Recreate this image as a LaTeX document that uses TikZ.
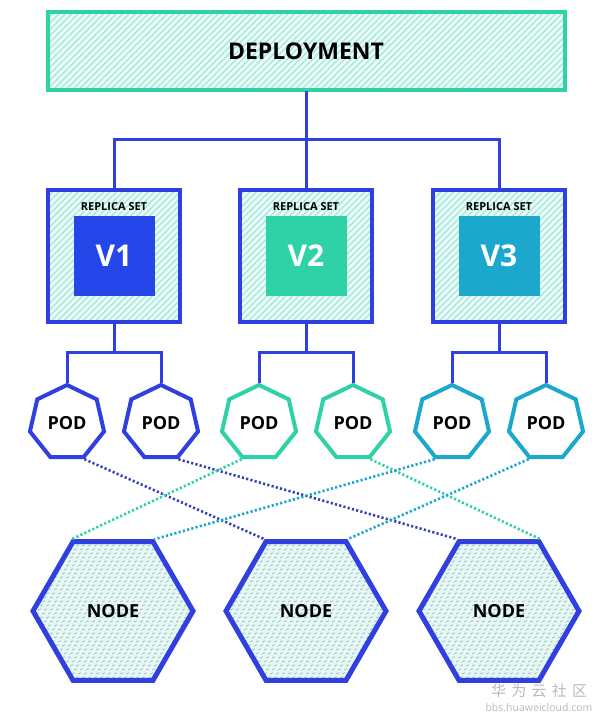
\documentclass[tikz,border=0pt]{standalone}
\usepackage{fontspec}
\setmainfont{Open Sans}
\newfontfamily\cjkfont{Noto Sans CJK SC}
\usetikzlibrary{shapes.geometric,patterns.meta}

\definecolor{kblue}{HTML}{2F3FE0}
\definecolor{vblue}{HTML}{2546E8}
\definecolor{kgreen}{HTML}{2FD1A7}
\definecolor{kteal}{HTML}{1CA8CC}
\definecolor{dotblue}{HTML}{3A44B0}
\definecolor{hatchbg}{HTML}{EAFBF8}
\definecolor{hatchline}{HTML}{A3E8DA}
\definecolor{nodebg}{HTML}{E6F8F6}
\definecolor{nodedash}{HTML}{9CBDB7}

\tikzdeclarepattern{
  name=nodedashes,
  type=uncolored,
  bounding box={(-1pt,-1pt) and (7pt,5pt)},
  tile size={(6pt,4pt)},
  tile transformation={xslant=0.5},
  code={\draw[line width=0.9pt] (0pt,0pt) -- (2.2pt,1.2pt);}
}

\begin{document}
\begin{tikzpicture}[x=1pt, y=-1pt] %Deployment
	\tikzstyle{hatchfill} = [preaction={fill=hatchbg}, pattern={Lines[angle=45,distance=4.5pt,line width=1.3pt]}, pattern color=hatchline]
	\tikzstyle{deploy} = [rectangle, draw=kgreen, line width=4pt, hatchfill, minimum width=517, minimum height=78, font=\bfseries\fontsize{23}{27}\selectfont]
	\tikzstyle{rsbox} = [rectangle, draw=kblue, line width=4.5pt, hatchfill, minimum size=132]
	\tikzstyle{vbox} = [rectangle, minimum width=81, minimum height=80, text=white, font=\bfseries\fontsize{30}{34}\selectfont]
	\tikzstyle{rslabel} = [inner sep=0pt, font=\bfseries\fontsize{11}{13}\selectfont]
	\tikzstyle{pod} = [regular polygon, regular polygon sides=7, line width=4pt, fill=white, minimum size=76, inner sep=0pt, font=\bfseries\fontsize{18}{22}\selectfont]
	\tikzstyle{hexnode} = [regular polygon, regular polygon sides=6, draw=kblue, line width=5pt, preaction={fill=nodebg}, pattern=nodedashes, pattern color=nodedash, minimum size=160, inner sep=0pt, font=\bfseries\fontsize{18}{22}\selectfont]
	\tikzstyle{tree} = [draw=kblue, line width=3pt]
	\tikzstyle{link} = [line width=2.6pt, dash pattern=on 2.2pt off 2.2pt]
	\tikzstyle{watertext} = [text=gray!55, inner sep=0pt]

	\useasboundingbox (0,0) rectangle (606,722);

	\node[deploy] (dep) at (306,51) {DEPLOYMENT};
	\foreach \i/\x/\col in {1/114/vblue, 2/306/kgreen, 3/499/kteal}
	{
		\node[rsbox] (rs\i) at (\x,256) {};
		\node[vbox, fill=\col] (v\i) at (\x,256) {V\i};
		\node[rslabel] (rl\i) at (\x,207) {REPLICA SET};
	}
	\foreach \i/\x/\col in {1/67/kblue, 2/161/kblue, 3/259/kgreen, 4/353/kgreen, 5/452/kteal, 6/546/kteal}
		\node[pod, draw=\col] (pod\i) at (\x,423) {POD};
	\foreach \i/\x in {1/113, 2/306, 3/499}
		\node[hexnode] (node\i) at (\x,611) {NODE};

	% deployment to replica sets
	\coordinate (fork) at (dep.south |- 0,140);
	\draw[tree] (dep.south) -- (rs2.north);
	\draw[tree] (rs1.north) |- (fork) -| (rs3.north);

	% replica sets to pods
	\foreach \r/\a/\b in {1/1/2, 2/3/4, 3/5/6}
	{
		\coordinate (fork\r) at (rs\r.south |- 0,352);
		\draw[tree] (rs\r.south) -- (fork\r);
		\draw[tree] (pod\a.corner 1) |- (fork\r) -| (pod\b.corner 1);
	}

	% pods to nodes
	\foreach \p/\c/\n/\k/\col in {1/5/2/120/dotblue, 2/5/3/120/dotblue, 3/4/1/120/kgreen, 4/5/3/60/kgreen, 5/4/1/60/kteal, 6/4/2/60/kteal}
		\draw[link, \col] (pod\p.corner \c) -- (node\n.\k);

	\node[watertext, font=\cjkfont\fontsize{15}{17}\selectfont] (wm) at (539,691) {华\hspace{0.35em}为\hspace{0.35em}云\hspace{0.35em}社\hspace{0.35em}区};
	\node[watertext, font=\fontsize{10.5}{12}\selectfont] (wmurl) at (539,708) {bbs.huaweicloud.com};
\end{tikzpicture}
\end{document}
